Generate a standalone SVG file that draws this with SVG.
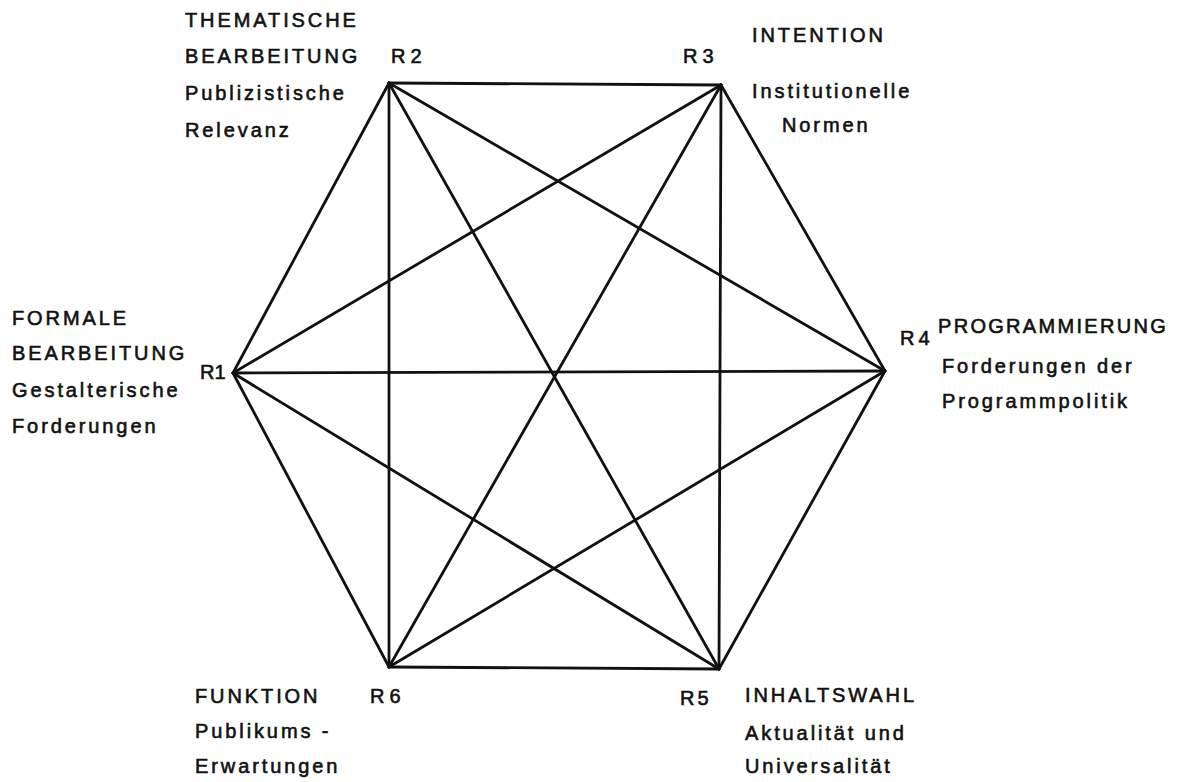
<svg xmlns="http://www.w3.org/2000/svg" width="1192" height="782" viewBox="0 0 1192 782">
<style>
text{font-family:"Liberation Sans",Arial,sans-serif;font-size:20px;fill:#111;stroke:#111;stroke-width:0.6;letter-spacing:2.9px}
.e line{stroke:#111;stroke-width:2.8;stroke-linecap:round}
</style>
<rect width="1192" height="782" fill="#fff"/>
<g class="e" id="connectors">
<line x1="233" y1="373" x2="389" y2="83"/>
<line x1="233" y1="373" x2="721" y2="85"/>
<line x1="233" y1="373" x2="885" y2="371"/>
<line x1="233" y1="373" x2="719" y2="669"/>
<line x1="233" y1="373" x2="389" y2="667"/>
<line x1="389" y1="83" x2="721" y2="85"/>
<line x1="389" y1="83" x2="885" y2="371"/>
<line x1="389" y1="83" x2="719" y2="669"/>
<line x1="389" y1="83" x2="389" y2="667"/>
<line x1="721" y1="85" x2="885" y2="371"/>
<line x1="721" y1="85" x2="719" y2="669"/>
<line x1="721" y1="85" x2="389" y2="667"/>
<line x1="885" y1="371" x2="719" y2="669"/>
<line x1="885" y1="371" x2="389" y2="667"/>
<line x1="719" y1="669" x2="389" y2="667"/>
</g>
<g id="R1">
<text x="12" y="325">FORMALE</text>
<text x="12" y="360">BEARBEITUNG</text>
<text x="200" y="379" style="letter-spacing:0">R1</text>
<text x="12" y="397">Gestalterische</text>
<text x="12" y="433">Forderungen</text>
</g>
<g id="R2">
<text x="185" y="27">THEMATISCHE</text>
<text x="185" y="63">BEARBEITUNG</text>
<text x="391" y="63" style="letter-spacing:5px">R2</text>
<text x="185" y="100">Publizistische</text>
<text x="185" y="137">Relevanz</text>
</g>
<g id="R3">
<text x="752" y="42">INTENTION</text>
<text x="683" y="63" style="letter-spacing:5px">R3</text>
<text x="752" y="98">Institutionelle</text>
<text x="782" y="132">Normen</text>
</g>
<g id="R4">
<text x="900" y="345" style="letter-spacing:4px">R4</text>
<text x="938" y="333" style="letter-spacing:2.3px">PROGRAMMIERUNG</text>
<text x="942" y="373">Forderungen der</text>
<text x="942" y="408">Programmpolitik</text>
</g>
<g id="R5">
<text x="680" y="705" style="letter-spacing:3px">R5</text>
<text x="745" y="702">INHALTSWAHL</text>
<text x="745" y="740">Aktualität und</text>
<text x="745" y="773">Universalität</text>
</g>
<g id="R6">
<text x="195" y="703">FUNKTION</text>
<text x="370" y="703" style="letter-spacing:5px">R6</text>
<text x="195" y="738">Publikums -</text>
<text x="195" y="773">Erwartungen</text>
</g>
</svg>
